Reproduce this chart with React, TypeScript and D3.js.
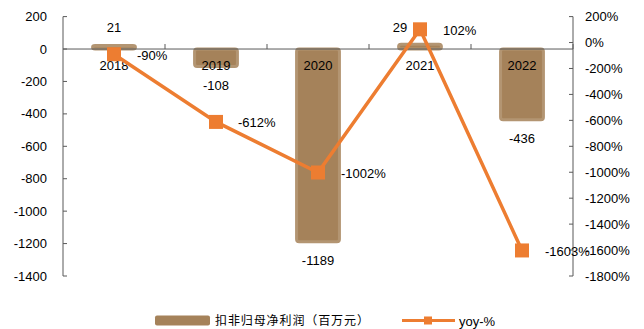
import React from "react";
import * as d3 from "d3";

const years = ["2018", "2019", "2020", "2021", "2022"];
const profit = [21, -108, -1189, 29, -436];
const yoy = [-90, -612, -1002, 102, -1603];
const leftTicks = [200, 0, -200, -400, -600, -800, -1000, -1200, -1400];
const rightTicks = [200, 0, -200, -400, -600, -800, -1000, -1200, -1400, -1600, -1800];
const barLegend = "扣非归母净利润（百万元）";
const lineLegend = "yoy-%";

const W = 644, H = 329;
const L = 63, R = 573, T = 16.6, B = 276;
const BAR = "#A5825A";
const LINE = "#ED7D31";
const AX = "#595959";
const FONT = "'Liberation Sans', Arial, sans-serif";

export default function App() {
  const x = d3.scaleBand<string>().domain(years).range([L, R]).paddingInner(0.58).paddingOuter(0.29);
  const yL = d3.scaleLinear().domain([-1400, 200]).range([B, T]);
  const yR = d3.scaleLinear().domain([-1800, 200]).range([B, T]);
  const cx = (d: string) => (x(d) as number) + x.bandwidth() / 2;
  const step = (R - L) / years.length;
  const lineGen = d3.line<number>().x((_, i) => cx(years[i])).y((v) => yR(v));
  const y0 = yL(0);

  const yoyLabelDx = [23, 22, 23, 23, 23];

  return (
    <svg width={W} height={H} style={{ position: "absolute", left: 0, top: 0 }} fontFamily={FONT}>
      <rect width={W} height={H} fill="#fff" />
      {/* bars */}
      {profit.map((v, i) => {
        const y1 = Math.min(yL(v), y0), y2 = Math.max(yL(v), y0);
        return (
          <rect key={i} x={x(years[i])} y={y1} width={x.bandwidth()} height={Math.max(y2 - y1, 1)}
            rx={2.5} fill={BAR} stroke="#B39572" strokeWidth={3} strokeLinejoin="round" />
        );
      })}
      {/* left axis */}
      <line x1={L} x2={L} y1={yL(200)} y2={yL(-1400)} stroke={AX} strokeWidth={1} />
      {leftTicks.map((t) => (
        <g key={t}>
          <line x1={L} x2={L + 4} y1={yL(t)} y2={yL(t)} stroke={AX} />
          <text x={47} y={yL(t)} dy="0.35em" textAnchor="end" fontSize={13} fill="#000">{t}</text>
        </g>
      ))}
      {/* right axis */}
      <line x1={R} x2={R} y1={yR(200)} y2={yR(-1800)} stroke={AX} strokeWidth={1} />
      {rightTicks.map((t) => (
        <g key={t}>
          <line x1={R - 4} x2={R} y1={yR(t)} y2={yR(t)} stroke={AX} />
          <text x={585} y={yR(t)} dy="0.35em" textAnchor="start" fontSize={13} fill="#000">{t}%</text>
        </g>
      ))}
      {/* category axis at zero */}
      <line x1={L} x2={R} y1={y0} y2={y0} stroke={AX} strokeWidth={1} />
      {years.map((d, i) => (
        <line key={d} x1={L + step * (i + 1)} x2={L + step * (i + 1)} y1={y0 - 5} y2={y0} stroke={AX} />
      ))}
      {years.map((d) => (
        <text key={d} x={cx(d)} y={65} dy="0.35em" textAnchor="middle" fontSize={13} fill="#000">{d}</text>
      ))}
      {/* bar labels */}
      {profit.map((v, i) => {
        const yy = v >= 0 ? 27 : yL(v) + 19;
        const xx = i === 3 ? cx(years[i]) - 20 : cx(years[i]);
        return (
          <text key={i} x={xx} y={yy} dy="0.35em" textAnchor="middle" fontSize={13} fill="#000">{v}</text>
        );
      })}
      {/* line */}
      <path d={lineGen(yoy) || ""} fill="none" stroke={LINE} strokeWidth={3.5} />
      {yoy.map((v, i) => (
        <rect key={i} x={cx(years[i]) - 7} y={yR(v) - 7} width={14} height={14} fill={LINE} />
      ))}
      {yoy.map((v, i) => (
        <text key={i} x={cx(years[i]) + yoyLabelDx[i]} y={yR(v) + 1} dy="0.35em" textAnchor="start" fontSize={13} fill="#000">{v}%</text>
      ))}
      {/* legend */}
      <rect x={155} y={315.5} width={55} height={10} rx={2} fill={BAR} />
      <text x={215} y={321} dy="0.35em" fontSize={12} letterSpacing={0.9} fontFamily="'Noto Sans CJK SC', sans-serif" fill="#000">{barLegend}</text>
      <line x1={402} x2={455} y1={320.5} y2={320.5} stroke={LINE} strokeWidth={3} />
      <rect x={424} y={316.5} width={8} height={8} fill={LINE} />
      <text x={459} y={321} dy="0.35em" fontSize={13} fill="#000">{lineLegend}</text>
    </svg>
  );
}
